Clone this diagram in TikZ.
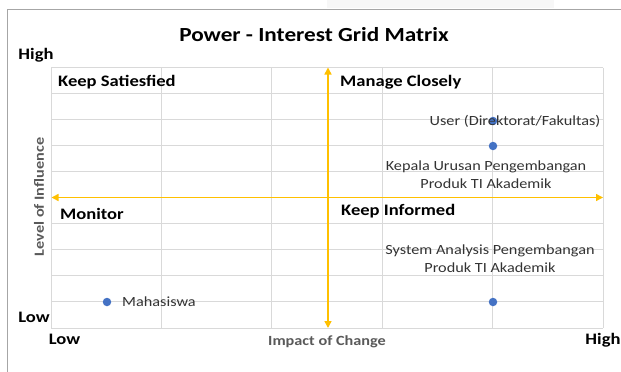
\documentclass[tikz,border=0pt]{standalone}
\usepackage{fontspec}
\setmainfont{Carlito}
\usepackage{tikz}
\usetikzlibrary{arrows.meta}
\definecolor{gridgray}{HTML}{D9D9D9}
\definecolor{axisorange}{HTML}{FFC000}
\definecolor{ptblue}{HTML}{4472C4}
\definecolor{axisgray}{HTML}{595959}
\tikzset{>={Triangle[length=7pt,width=7pt]}}

\begin{document}
\begin{tikzpicture}[x=1pt,y=-1pt,
    wide/.style={xscale=1.16},
    quad/.style={font=\fontsize{16}{18}\selectfont\bfseries,anchor=west,inner sep=0pt,wide},
    ends/.style={font=\fontsize{16}{18}\selectfont\bfseries,inner sep=0pt,wide},
    axislbl/.style={font=\fontsize{14}{16}\selectfont\bfseries,text=axisgray,inner sep=0pt},
    ptlbl/.style={font=\fontsize{14}{18}\selectfont,text=black!80,align=center,inner sep=0pt,wide},
    pt/.style={circle,fill=ptblue,minimum size=8.5pt,inner sep=0pt}]
  \useasboundingbox (0,0) rectangle (621,372);
       \fill[gray!6] (327,0) rectangle (554,8);
       \draw[gray!70,line width=0.8pt] (7,372)--(7,9)--(621,9);
       % grid, 5 columns by 10 rows
       \foreach \gx in {0,...,5}
         \draw[gridgray,line width=1pt] ({51+110.4*\gx},67.5)--({51+110.4*\gx},328);
       \foreach \gy in {0,...,10}
         \draw[gridgray,line width=1pt] (51,{67.5+26.05*\gy})--(603,{67.5+26.05*\gy});
       % axes
       \coordinate (up) at (328,67.5);
       \coordinate (down) at (328,328);
       \coordinate (left) at (51.5,197.5);
       \coordinate (right) at (603,197.5);
       \draw[axisorange,line width=1.5pt,<->] (down)--(up);
       \draw[axisorange,line width=1.5pt,<->] (left)--(right);
       \node[font=\fontsize{20}{22}\selectfont\bfseries,wide] at (314, 35)   (title) {Power - Interest Grid Matrix};
       \node[ends] at (36, 55)   (hi) {High};
       \node[ends] at (34, 317)   (lo) {Low};
       \node[ends] at (64.5, 339)   (lox) {Low};
       \node[ends] at (603, 340)   (hix) {High};
       \node[quad] at (58, 82)   (ks) {Keep Satiesfied};
       \node[quad] at (340, 82)   (mc) {Manage Closely};
       \node[quad] at (60, 214)   (mo) {Monitor};
       \node[quad] at (341, 211)   (ki) {Keep Informed};
       \node[axislbl,rotate=90,wide] at (39, 197)   (yl) {Level of Influence};
       \node[axislbl,wide] at (327, 342)   (xl) {Impact of Change};
       % stakeholders
       \node[pt] at (493, 121)   (user) {};
       \node[pt] at (493, 146)   (kepala) {};
       \node[pt] at (493, 302)   (sa) {};
       \node[pt] at (107, 302)   (mhs) {};
       \node[ptlbl] at (515, 121)   (userl) {User (Direktorat/Fakultas)};
       \node[ptlbl] at (486, 175)   (kepalal) {Kepala Urusan Pengembangan\\Produk TI Akademik};
       \node[ptlbl] at (490, 259)   (sal) {System Analysis Pengembangan\\Produk TI Akademik};
       \node[ptlbl,anchor=west] at (122, 302)   (mhsl) {Mahasiswa};
     \end{tikzpicture}
\end{document}
